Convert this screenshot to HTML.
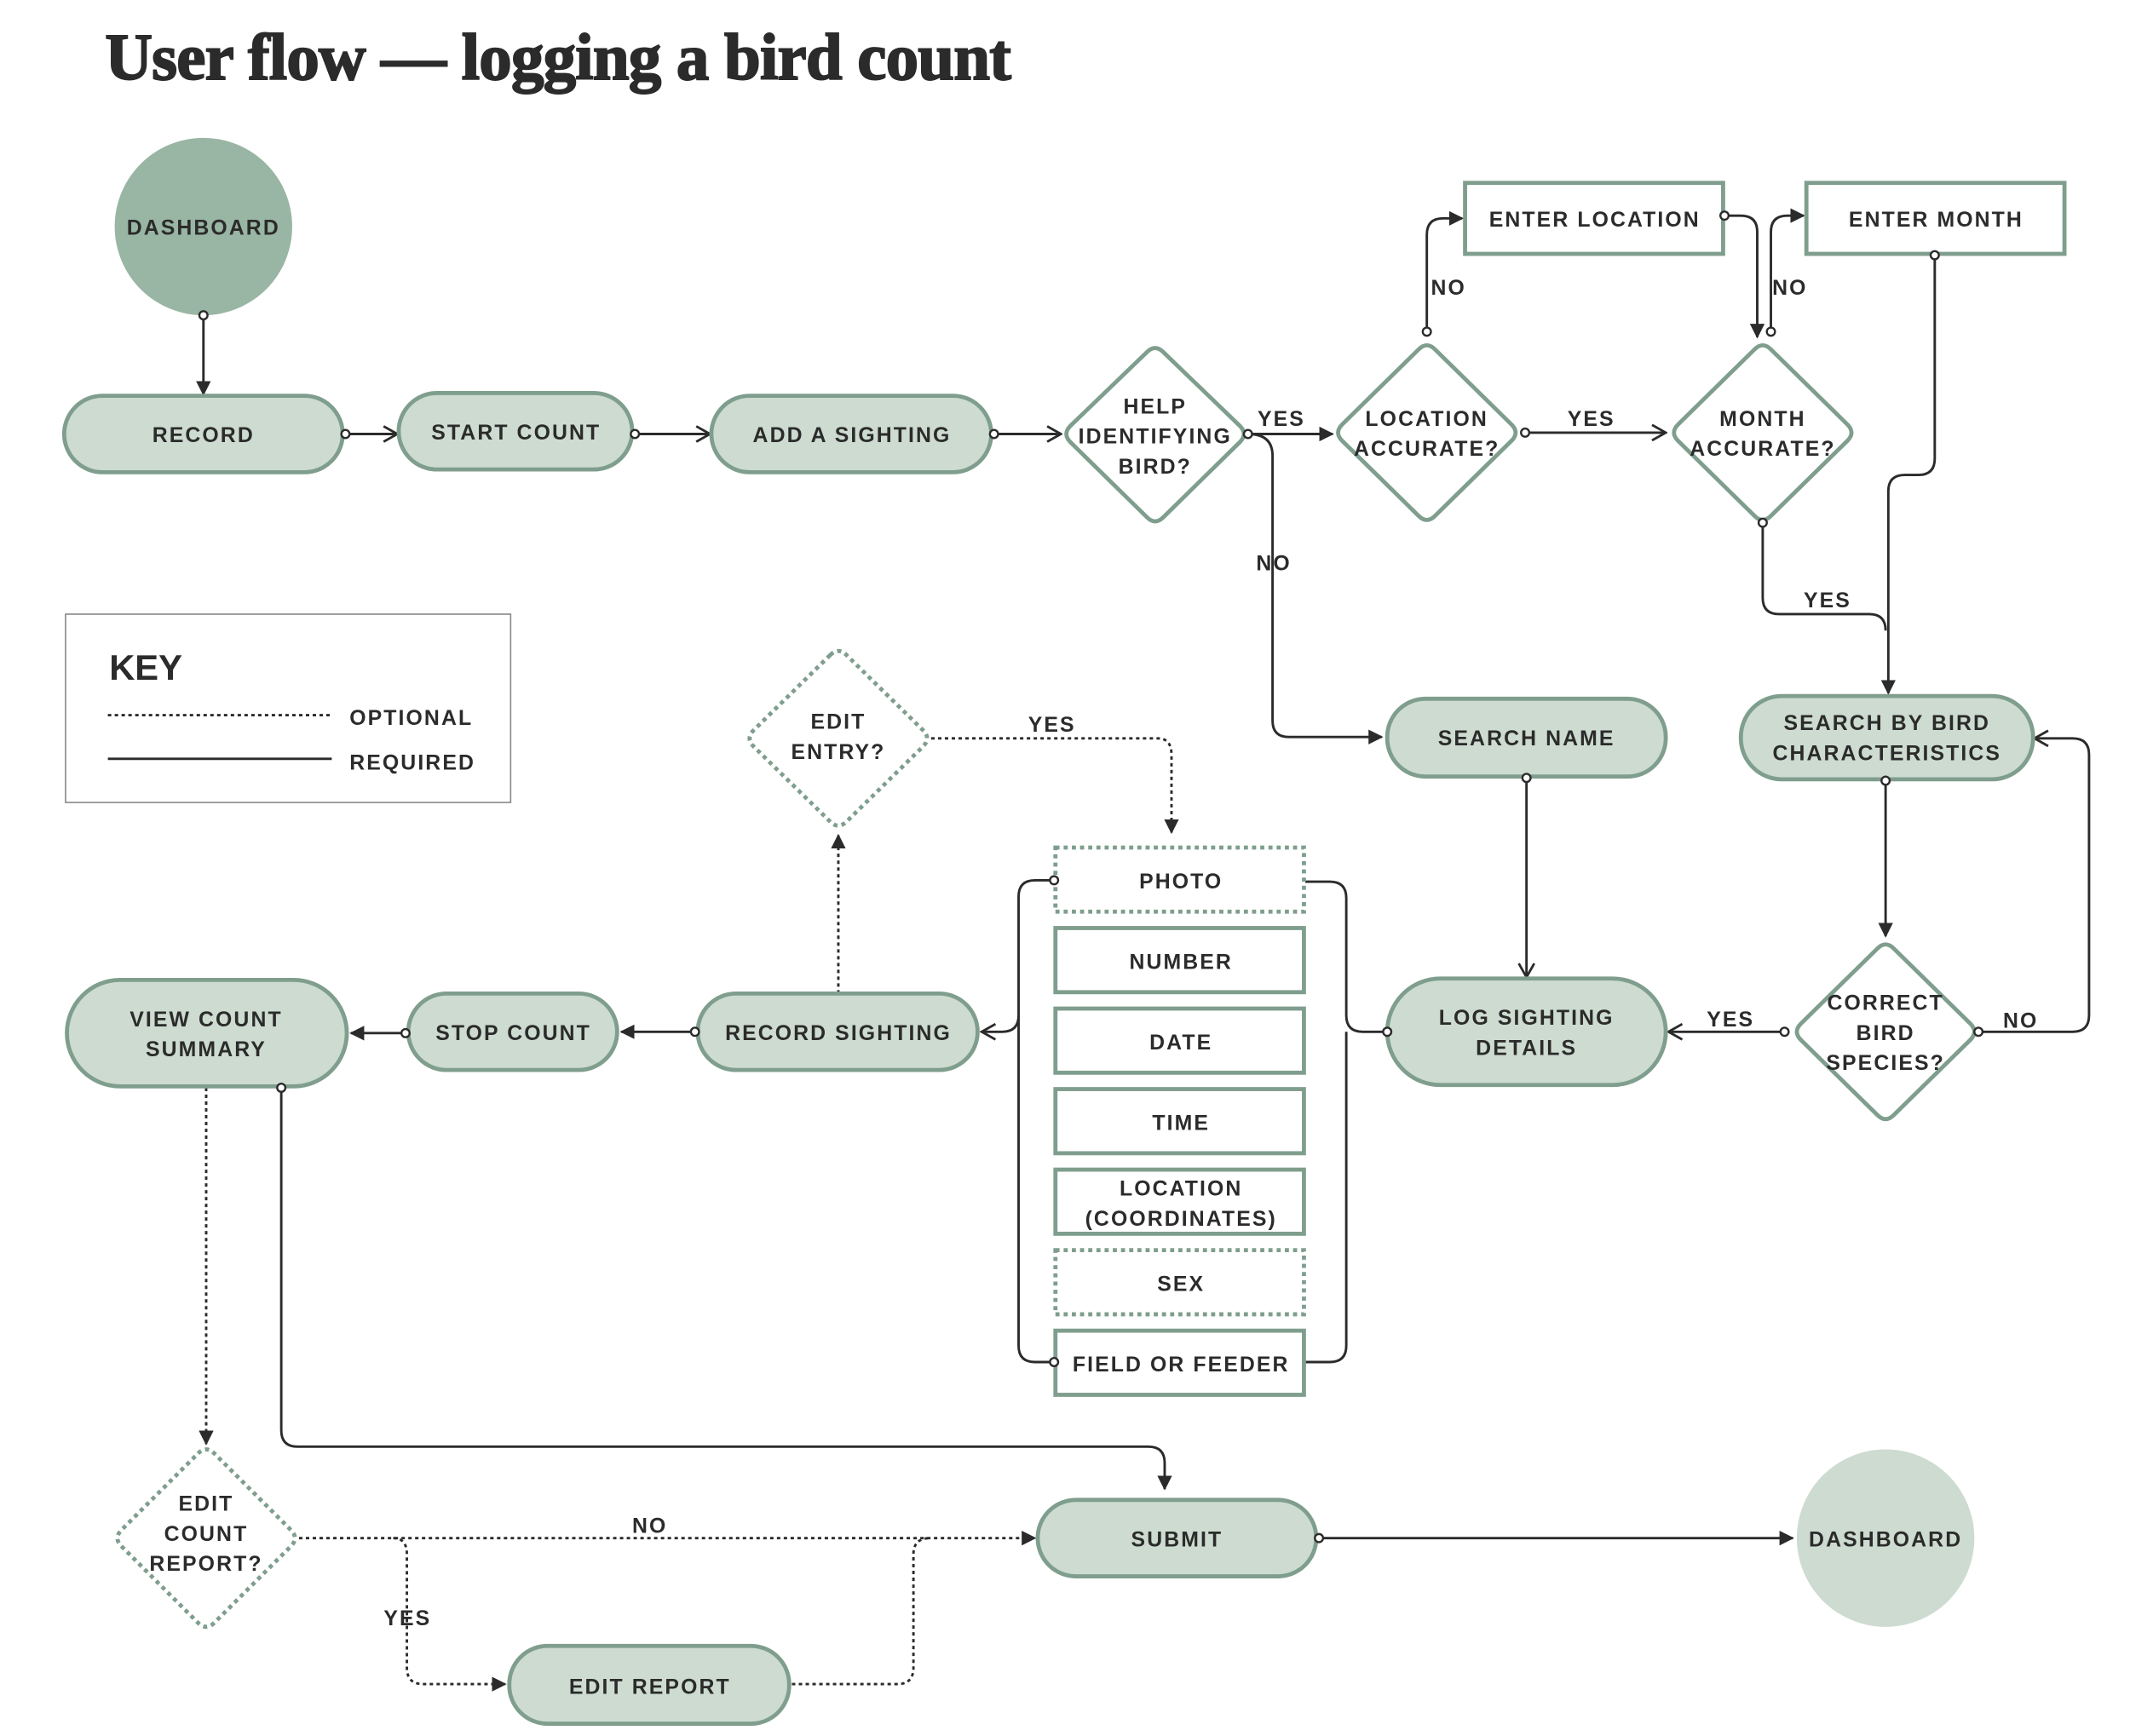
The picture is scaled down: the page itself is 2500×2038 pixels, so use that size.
<!DOCTYPE html>
<html><head><meta charset="utf-8"><style>
html,body{margin:0;padding:0;background:#fff;}
svg{display:block;}
text{font-family:"Liberation Sans",sans-serif;font-weight:bold;fill:#2b2b2b;}
.t{font-size:15.5px;letter-spacing:1.3px;text-anchor:middle;}
.l{font-size:15.5px;letter-spacing:1.3px;}
.pill{fill:#cddbd0;stroke:#7f9e8d;stroke-width:3;}
.box{fill:#fff;stroke:#7f9e8d;stroke-width:3;}
.dbox{fill:#fff;stroke:#7f9e8d;stroke-width:3;stroke-dasharray:3 3;}
.c{fill:none;stroke:#2b2b2b;stroke-width:1.8;}
.d{fill:none;stroke:#2b2b2b;stroke-width:1.8;stroke-dasharray:2.5 2.5;}
.dot{fill:#fff;stroke:#2b2b2b;stroke-width:1.5;}
</style></head><body>
<svg width="2500" height="2038" viewBox="0 0 1560 1272" preserveAspectRatio="none" xmlns="http://www.w3.org/2000/svg">
<defs>
<marker id="f" viewBox="0 0 10 10" refX="9" refY="5" markerWidth="6" markerHeight="6" orient="auto"><path d="M0,0 L10,5 L0,10 z" fill="#2b2b2b"/></marker>
<marker id="o" viewBox="0 0 10 10" refX="9" refY="5" markerWidth="7" markerHeight="7" orient="auto"><path d="M1,0.5 L9,5 L1,9.5" fill="none" stroke="#2b2b2b" stroke-width="1.4"/></marker>
</defs>
<text x="77" y="58" style="font-family:'Liberation Serif',serif;font-size:48px;font-weight:bold;letter-spacing:-0.5px;fill:#2b2b2b;stroke:#2b2b2b;stroke-width:1.2">User flow — logging a bird count</text>

<path class="c" d="M149,231 V289" marker-end="url(#f)"/>
<path class="c" d="M253,318 H291" marker-end="url(#o)"/>
<path class="c" d="M465,318 H520" marker-end="url(#o)"/>
<path class="c" d="M728,318 H777" marker-end="url(#o)"/>
<path class="c" d="M914,318 H976" marker-end="url(#f)"/>
<path class="c" d="M914,318 Q932,318 932,334 V528 Q932,540 944,540 H1012" marker-end="url(#f)"/>
<path class="c" d="M1117,317 H1220" marker-end="url(#o)"/>
<path class="c" d="M1045,243 V172 Q1045,160 1057,160 H1071" marker-end="url(#f)"/>
<path class="c" d="M1263,158 H1275 Q1287,158 1287,170 V247" marker-end="url(#f)"/>
<path class="c" d="M1297,243 V170 Q1297,158 1309,158 H1321" marker-end="url(#f)"/>
<path class="c" d="M1417,187 V336 Q1417,348 1405,348 H1395 Q1383,348 1383,360 V508" marker-end="url(#f)"/>
<path class="c" d="M1291,383 V438 Q1291,450 1303,450 H1369 Q1381,450 1381,462"/>
<path class="c" d="M1118,570 V716" marker-end="url(#o)"/>
<path class="c" d="M1381,572 V686" marker-end="url(#f)"/>
<path class="c" d="M1307,756 H1222" marker-end="url(#o)"/>
<path class="c" d="M1449,756 H1518 Q1530,756 1530,744 V553 Q1530,541 1518,541 H1490" marker-end="url(#o)"/>
<path class="c" d="M1016,756 H998 Q986,756 986,744 V658 Q986,646 974,646 H956 M986,756 V986 Q986,998 974,998 H956"/>
<path class="c" d="M772,645 H758 Q746,645 746,657 V986 Q746,998 758,998 H772"/>
<path class="c" d="M746,744 Q746,756 734,756 H719" marker-end="url(#o)"/>
<path class="d" d="M614,728 V612" marker-end="url(#f)"/>
<path class="d" d="M682,541 H848 Q858,541 858,553 V610" marker-end="url(#f)"/>
<path class="c" d="M509,756 H455" marker-end="url(#f)"/>
<path class="c" d="M297,757 H257" marker-end="url(#f)"/>
<path class="d" d="M151,797 V1058" marker-end="url(#f)"/>
<path class="c" d="M206,797 V1048 Q206,1060 218,1060 H841 Q853,1060 853,1072 V1091" marker-end="url(#f)"/>
<path class="d" d="M219,1127 H758" marker-end="url(#f)"/>
<path class="d" d="M288,1127 Q298,1127 298,1139 V1222 Q298,1234 310,1234 H370" marker-end="url(#f)"/>
<path class="d" d="M580,1234 H657 Q669,1234 669,1222 V1139 Q669,1127 681,1127"/>
<path class="c" d="M966,1127 H1313" marker-end="url(#f)"/>

<circle cx="149" cy="166" r="65" fill="#99b5a3"/>
<text class="t" x="149" y="172">DASHBOARD</text>
<rect class="pill" x="47" y="290" width="204" height="56" rx="28"/><text class="t" x="149" y="324">RECORD</text>
<rect class="pill" x="292" y="288" width="171" height="56" rx="28"/><text class="t" x="378" y="322">START COUNT</text>
<rect class="pill" x="521" y="290" width="205" height="56" rx="28"/><text class="t" x="624" y="324">ADD A SIGHTING</text>
<path class="box" stroke-linejoin="round" d="M840,258 Q846,252 852,258 L908,312 Q914,318 908,324 L852,379 Q846,385 840,379 L784,324 Q778,318 784,312 Z"/>
<text class="t" x="846" y="303">HELP</text><text class="t" x="846" y="325">IDENTIFYING</text><text class="t" x="846" y="347">BIRD?</text>
<path class="box" stroke-linejoin="round" d="M1039,256 Q1045,250 1051,256 L1107,311 Q1113,317 1107,323 L1051,378 Q1045,384 1039,378 L983,323 Q977,317 983,311 Z"/>
<text class="t" x="1045" y="312">LOCATION</text><text class="t" x="1045" y="334">ACCURATE?</text>
<path class="box" stroke-linejoin="round" d="M1285,256 Q1291,250 1297,256 L1353,311 Q1359,317 1353,323 L1297,378 Q1291,384 1285,378 L1229,323 Q1223,317 1229,311 Z"/>
<text class="t" x="1291" y="312">MONTH</text><text class="t" x="1291" y="334">ACCURATE?</text>
<rect class="box" x="1073" y="134" width="189" height="52"/><text class="t" x="1168" y="166">ENTER LOCATION</text>
<rect class="box" x="1323" y="134" width="189" height="52"/><text class="t" x="1418" y="166">ENTER MONTH</text>
<rect class="pill" x="1016" y="512" width="204" height="57" rx="28"/><text class="t" x="1118" y="546">SEARCH NAME</text>
<rect class="pill" x="1275" y="510" width="214" height="61" rx="30"/><text class="t" x="1382" y="535">SEARCH BY BIRD</text><text class="t" x="1382" y="557">CHARACTERISTICS</text>
<path class="box" stroke-linejoin="round" d="M1375,695 Q1381,689 1387,695 L1443,750 Q1449,756 1443,762 L1387,817 Q1381,823 1375,817 L1319,762 Q1313,756 1319,750 Z"/>
<text class="t" x="1381" y="740">CORRECT</text><text class="t" x="1381" y="762">BIRD</text><text class="t" x="1381" y="784">SPECIES?</text>
<rect class="pill" x="1016" y="717" width="204" height="78" rx="39"/><text class="t" x="1118" y="751">LOG SIGHTING</text><text class="t" x="1118" y="773">DETAILS</text>
<rect class="dbox" x="773" y="621" width="182" height="47"/><text class="t" x="865" y="651">PHOTO</text>
<rect class="box" x="773" y="680" width="182" height="47"/><text class="t" x="865" y="710">NUMBER</text>
<rect class="box" x="773" y="739" width="182" height="47"/><text class="t" x="865" y="769">DATE</text>
<rect class="box" x="773" y="798" width="182" height="47"/><text class="t" x="865" y="828">TIME</text>
<rect class="box" x="773" y="857" width="182" height="47"/><text class="t" x="865" y="876">LOCATION</text><text class="t" x="865" y="898">(COORDINATES)</text>
<rect class="dbox" x="773" y="916" width="182" height="47"/><text class="t" x="865" y="946">SEX</text>
<rect class="box" x="773" y="975" width="182" height="47"/><text class="t" x="865" y="1005">FIELD OR FEEDER</text>
<rect class="pill" x="511" y="728" width="205" height="56" rx="28"/><text class="t" x="614" y="762">RECORD SIGHTING</text>
<rect class="pill" x="299" y="728" width="153" height="56" rx="28"/><text class="t" x="376" y="762">STOP COUNT</text>
<rect class="pill" x="49" y="718" width="205" height="78" rx="39"/><text class="t" x="151" y="752">VIEW COUNT</text><text class="t" x="151" y="774">SUMMARY</text>
<path class="dbox" stroke-linejoin="round" d="M608,480 Q614,474 620,480 L676,535 Q682,541 676,547 L620,602 Q614,608 608,602 L552,547 Q546,541 552,535 Z"/>
<text class="t" x="614" y="534">EDIT</text><text class="t" x="614" y="556">ENTRY?</text>
<path class="dbox" stroke-linejoin="round" d="M145,1065 Q151,1059 157,1065 L213,1121 Q219,1127 213,1133 L157,1189 Q151,1195 145,1189 L89,1133 Q83,1127 89,1121 Z"/>
<text class="t" x="151" y="1107">EDIT</text><text class="t" x="151" y="1129">COUNT</text><text class="t" x="151" y="1151">REPORT?</text>
<rect class="pill" x="760" y="1099" width="204" height="56" rx="28"/><text class="t" x="862" y="1133">SUBMIT</text>
<rect class="pill" x="373" y="1206" width="205" height="57" rx="28"/><text class="t" x="476" y="1241">EDIT REPORT</text>
<circle cx="1381" cy="1127" r="65" fill="#cddbd0"/><text class="t" x="1381" y="1133">DASHBOARD</text>

<circle class="dot" cx="149" cy="231" r="3"/><circle class="dot" cx="253" cy="318" r="3"/><circle class="dot" cx="465" cy="318" r="3"/><circle class="dot" cx="728" cy="318" r="3"/><circle class="dot" cx="914" cy="318" r="3"/><circle class="dot" cx="1117" cy="317" r="3"/><circle class="dot" cx="1045" cy="243" r="3"/><circle class="dot" cx="1263" cy="158" r="3"/><circle class="dot" cx="1297" cy="243" r="3"/><circle class="dot" cx="1417" cy="187" r="3"/><circle class="dot" cx="1291" cy="383" r="3"/><circle class="dot" cx="1118" cy="570" r="3"/><circle class="dot" cx="1381" cy="572" r="3"/><circle class="dot" cx="1307" cy="756" r="3"/><circle class="dot" cx="1449" cy="756" r="3"/><circle class="dot" cx="1016" cy="756" r="3"/><circle class="dot" cx="772" cy="645" r="3"/><circle class="dot" cx="772" cy="998" r="3"/><circle class="dot" cx="509" cy="756" r="3"/><circle class="dot" cx="297" cy="757" r="3"/><circle class="dot" cx="206" cy="797" r="3"/><circle class="dot" cx="966" cy="1127" r="3"/>

<text class="l" x="921" y="312">YES</text>
<text class="l" x="920" y="418">NO</text>
<text class="l" x="1148" y="312">YES</text>
<text class="l" x="1048" y="216">NO</text>
<text class="l" x="1298" y="216">NO</text>
<text class="l" x="1321" y="445">YES</text>
<text class="l" x="1250" y="752">YES</text>
<text class="l" x="1467" y="753">NO</text>
<text class="l" x="753" y="536">YES</text>
<text class="l" x="463" y="1123">NO</text>
<text class="l" x="281" y="1191">YES</text>

<rect x="48" y="450" width="326" height="138" fill="#fff" stroke="#888" stroke-width="1"/>
<text x="80" y="498" style="font-size:26px;">KEY</text>
<path class="d" d="M79,524 H243"/><text class="l" x="256" y="531">OPTIONAL</text>
<path class="c" d="M79,556 H243"/><text class="l" x="256" y="564">REQUIRED</text>
</svg>
</body></html>
